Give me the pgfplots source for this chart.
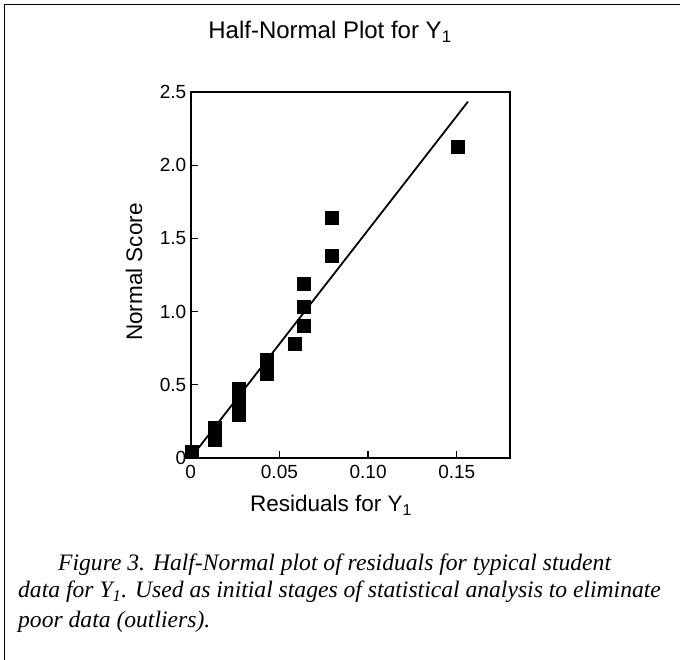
\documentclass[border=0pt]{standalone}
\usepackage{pgfplots}
\pgfplotsset{compat=1.18}
\usepackage{fontspec}
\setmainfont{Liberation Serif}
\newfontfamily\hv{Liberation Sans}

\begin{document}
\begin{tikzpicture}
\useasboundingbox (0pt,0pt) rectangle (680pt,660pt);
% frame (top and left edges only, as in the scan)
\draw[line width=1.8pt] (4.5pt,0pt) -- (4.5pt,655.5pt) -- (680pt,655.5pt);

\node[anchor=base,font=\hv\fontsize{24}{27}\selectfont] at (330pt,621pt) {Half-Normal Plot for Y\textsubscript{1}};

\begin{axis}[at={(190.7pt,202pt)},anchor=origin,scale only axis,
    width=319.3pt,height=366pt,
    xmin=0,xmax=0.18,ymin=0,ymax=2.5,clip=false,
    axis line style={line width=1.7pt},
    tick pos=left,tick align=inside,major tick length=7pt,
    tick style={line width=1.3pt,black},
    xtick={0,0.05,0.10,0.15},xticklabels={0,0.05,0.10,0.15},
    ytick={0,0.5,1.0,1.5,2.0,2.5},yticklabels={0,0.5,1.0,1.5,2.0,2.5},
    ticklabel style={font=\hv\fontsize{19}{21}\selectfont},
    xticklabel style={yshift=-4pt},
    yticklabel style={xshift=-1pt},
    /pgf/number format/assume math mode=true]
\addplot[black,line width=1.8pt] coordinates {(0,0) (0.1563,2.434)};
\addplot[only marks,mark=square*,mark size=6.5pt,mark options={fill=black,draw=black,line width=0.3pt}] coordinates {
(0.0005,0.042) (0.0135,0.126) (0.0135,0.210) (0.027,0.297) (0.027,0.385)
(0.027,0.477) (0.0428,0.573) (0.0428,0.674) (0.0587,0.783) (0.0638,0.903)
(0.0638,1.036) (0.0638,1.192) (0.0795,1.383) (0.0795,1.645) (0.1507,2.128)};
\end{axis}

\node[rotate=90,anchor=base,font=\hv\fontsize{22.5}{25}\selectfont] at (142pt,388pt) {Normal Score};
\node[anchor=base,font=\hv\fontsize{22.5}{25}\selectfont] at (331pt,148pt) {Residuals for Y\textsubscript{1}};

% caption
\begin{scope}[every node/.style={anchor=base west,inner sep=0pt,font=\itshape\fontsize{23.6}{26}\selectfont}]
\node at (58pt,89.3pt) {Figure 3. Half-Normal plot of residuals for typical student};
\node at (18pt,62.7pt) {data for Y\textsubscript{1}. Used as initial stages of statistical analysis to eliminate};
\node at (18pt,32.7pt) {poor data (outliers).};
\end{scope}
\end{tikzpicture}
\end{document}
